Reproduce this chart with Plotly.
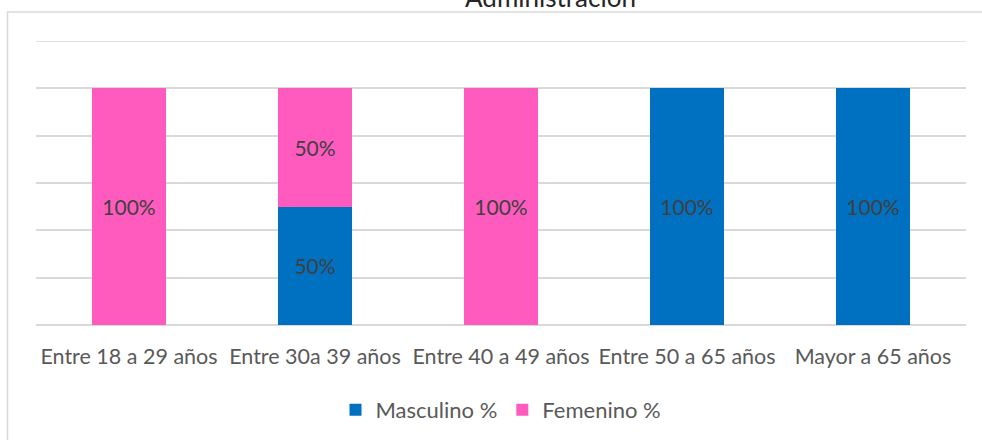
import plotly.graph_objects as go

categories = ["Entre 18 a 29 años", "Entre 30a 39 años", "Entre 40 a 49 años",
              "Entre 50 a 65 años", "Mayor a 65 años"]
masculino = [0, 0.5, 0, 1, 1]
femenino = [1, 0.5, 1, 0, 0]
title_text = "Administración"

FONT = "Lato"
W, H = 982, 440
L, R, T, B = 36, 16, 41, 115
pw, ph = W - L - R, H - T - B
YMAX = 1.2

def labels(vals):
    return [f"{v*100:.0f}%" if v > 0 else "" for v in vals]

fig = go.Figure()
fig.add_trace(go.Bar(x=categories, y=masculino, name="Masculino %",
                     marker=dict(color="#0070C0", line=dict(width=0)),
                     text=labels(masculino), textposition="inside",
                     insidetextanchor="middle",
                     textfont=dict(color="#404040", size=21, family=FONT)))
fig.add_trace(go.Bar(x=categories, y=femenino, name="Femenino %",
                     marker=dict(color="#FF5BBE", line=dict(width=0)),
                     text=labels(femenino), textposition="inside",
                     insidetextanchor="middle",
                     textfont=dict(color="#404040", size=21, family=FONT)))

fig.update_layout(
    width=W, height=H, barmode="stack", bargap=0.6,
    margin=dict(l=L, r=R, t=T, b=B, autoexpand=False),
    paper_bgcolor="white", plot_bgcolor="white",
    font=dict(family=FONT, color="#595959", size=21),
    uniformtext=dict(mode="show", minsize=10),
    showlegend=True,
    legend=dict(orientation="h", x=0.5, xanchor="center", y=-(410 - 325) / ph,
                yanchor="middle", font=dict(size=22, color="#595959"),
                itemwidth=30, traceorder="normal"),
    xaxis=dict(showgrid=False, showline=False, ticks="", tickfont=dict(size=21.5),
               ticklabelstandoff=16),
    yaxis=dict(range=[0, YMAX], dtick=0.2, showticklabels=False, showgrid=True,
               gridcolor="#D9D9D9", gridwidth=1.5, zeroline=True,
               zerolinecolor="#D9D9D9", zerolinewidth=1.5, showline=False),
)

# top gridline at the range edge
fig.add_shape(type="line", xref="paper", yref="y", x0=0, x1=1, y0=YMAX, y1=YMAX,
              line=dict(color="#D9D9D9", width=1.5), layer="below")

fig.add_annotation(text=title_text, xref="paper", yref="paper", x=(550 - L) / pw,
                   y=1, yshift=T + 3, yanchor="middle", showarrow=False,
                   font=dict(size=26, color="#262626", family=FONT))

fig.add_shape(type="rect", xref="paper", yref="paper",
              x0=(7.5 - L) / pw, x1=(W + 10 - L) / pw,
              y0=-(H + 10 - T - ph) / ph, y1=1 + (T - 12) / ph,
              line=dict(color="#D9D9D9", width=1.5), fillcolor="rgba(0,0,0,0)",
              layer="below")

fig.write_html("out.html", config={"displayModeBar": False},
               post_script="document.body.style.margin='0';")
